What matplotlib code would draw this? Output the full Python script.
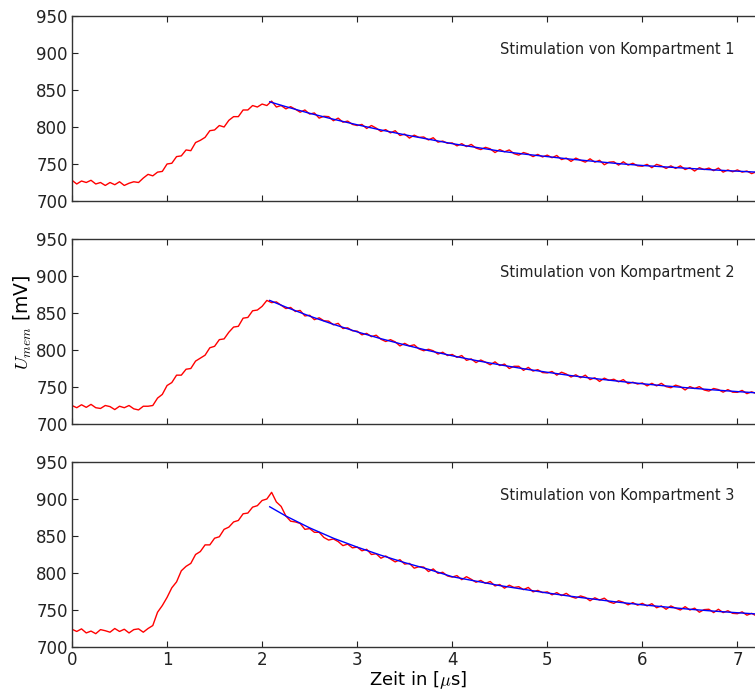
import numpy as np
import matplotlib
matplotlib.use("Agg")
import matplotlib.pyplot as plt

plt.rcParams['mathtext.fontset'] = 'cm'

# Abtastzeiten der Messung (0 ... 7.2 us, Schritt 0.05 us)
t = np.round(np.arange(145) * 0.05, 2)

# Membranspannung [mV], Stimulation Kompartment 1
u_k1 = [
    728, 723, 727, 725, 728, 723, 725, 721, 725, 722, 726, 721, 724, 726, 725, 731, 736, 734, 739, 740,
    750, 751, 760, 761, 769, 768, 779, 782, 786, 795, 796, 802, 800, 809, 814, 814, 823, 823, 829, 827,
    831, 829, 835, 827, 829, 824.5, 827.5, 824, 820, 823, 817.5, 819, 812, 814.5, 814, 808.5, 812, 806.5, 808, 803.5,
    802, 803.5, 798, 802, 798.5, 794, 796.5, 792, 795, 788.5, 790.5, 785, 789, 786, 786.5, 782.5, 785.5, 779.5, 781, 778,
    778.5, 774.5, 777.5, 773.5, 776.5, 771.5, 769.5, 772.5, 770.5, 765.5, 769.5, 766.5, 769, 764, 762, 765.5, 763.5, 760, 763, 759.5,
    762, 758.5, 761.5, 756, 758, 753.5, 758, 755, 752.5, 757, 752.5, 755, 749, 752.5, 753, 748.5, 753, 748.5, 751, 747.5,
    747, 749.5, 745, 749.5, 747.5, 744, 747.5, 744, 747.5, 742.5, 745, 740.5, 745, 742.5, 744.5, 741, 744.5, 739, 742, 739.5,
    742, 739, 740.5, 737, 739.5,
]

# Stimulation Kompartment 2
u_k2 = [
    725, 722, 726, 722.5, 726.5, 722, 721, 725, 723.5, 719.5, 724, 722, 725, 720.5, 719, 724, 724, 725, 735, 740,
    752, 756, 766, 766, 774, 775, 785, 789, 793, 803, 805, 814, 815, 824, 831, 832, 843, 844, 853, 854,
    859, 867, 864, 865, 860.5, 856, 857.5, 852, 853.5, 846, 847, 841, 843.5, 839.5, 839, 834, 836, 829, 830, 826,
    825.5, 820.5, 822.5, 818, 820, 814.5, 811.5, 814, 811, 805.5, 809, 805.5, 807, 801.5, 799, 801, 799, 794.5, 797, 792.5,
    794, 790, 792.5, 786, 788, 783, 786.5, 783.5, 780, 784, 779, 781, 775, 778, 778, 772.5, 776.5, 771.5, 773.5, 769.5,
    769, 771, 766, 770, 767.5, 763.5, 766.5, 762.5, 766, 760, 762.5, 757.5, 762, 759, 760.5, 757, 760, 754.5, 756.5, 754,
    755.5, 751.5, 755, 751.5, 755, 750.5, 749, 752.5, 750.5, 746, 750.5, 748, 750.5, 746, 744.5, 748, 746.5, 743, 746.5, 743,
    742.8, 745.4, 741, 743.5, 741,
]

# Stimulation Kompartment 3
u_k3 = [
    724, 721, 724.5, 719, 721.5, 718, 723.5, 722, 720, 725, 721, 724, 719, 723.5, 724.5, 720, 725, 729, 747, 756,
    767, 780, 788, 803, 809, 813, 825, 829, 838, 838, 847, 849, 859, 862, 869, 871, 880, 881, 889, 891,
    898, 900, 909, 896, 890, 877, 870, 869, 867, 859, 860, 855, 855, 848, 844.5, 846, 842.5, 837, 839, 834,
    835, 830, 832, 825, 826, 820, 823, 819, 815, 818, 812, 813, 806.5, 808.5, 808, 802, 805.5, 799.5, 801, 796,
    794.5, 796.5, 791, 795, 791.5, 787.5, 790, 786, 788.5, 782.5, 784.5, 779.5, 783.5, 780.5, 781.5, 777.5, 780.5, 774.5, 776.5, 773.5,
    774.5, 770.5, 773.5, 769.5, 772.5, 768, 766, 769, 767, 762.5, 766.5, 763.5, 766, 761, 759, 762.5, 760.5, 757, 760, 756.5,
    759, 755.5, 758.5, 753, 755.5, 751, 755.5, 752.5, 750, 754.5, 750, 752.5, 747, 750.5, 751, 746.5, 751, 746.5, 749, 745.5,
    745, 747.5, 743, 745.5, 742,
]

# exponentieller Fit des Abfalls (ab 2.08 us)
t_fit = [2.08, 2.25, 2.5, 2.75, 3.0, 3.25, 3.5, 3.75, 4.0, 4.25, 4.5, 4.75,
         5.0, 5.25, 5.5, 5.75, 6.0, 6.25, 6.5, 6.75, 7.0, 7.25]
fit_k1 = [834, 827.5, 818.5, 810.5, 803, 796, 789.5, 783.5, 777.5, 772.5, 767.5, 763.5,
          760, 756.5, 753.5, 750.5, 748, 746, 744, 742, 740.3, 738.7]
fit_k2 = [867, 858, 845.8, 834.7, 824.5, 815.3, 806.9, 799.2, 792.2, 785.8, 780, 774.7,
          769.9, 765.4, 761.4, 757.8, 754.4, 751.4, 748.6, 746.1, 743.8, 741.7]
fit_k3 = [889.5, 877, 861, 847, 835, 824, 814, 805, 795, 789, 783, 778,
          773, 768.5, 764.5, 760.5, 757, 754, 751, 748.5, 746.3, 744.2]

labels = ['Stimulation von Kompartment 1',
          'Stimulation von Kompartment 2',
          'Stimulation von Kompartment 3']
messungen = [u_k1, u_k2, u_k3]
fits = [fit_k1, fit_k2, fit_k3]

yticks = [700, 750, 800, 850, 900, 950]
xticks = [0, 1, 2, 3, 4, 5, 6, 7]

W, H = 755, 690
fig = plt.figure(figsize=(W / 100, H / 100), dpi=100)
fig.patch.set_facecolor('white')

# Achsen-Unterkanten in Pixeln (von oben): 201, 424, 647 ; Hoehe 185 px
unten = [201, 424, 647]
for i in range(3):
    ax = fig.add_axes([72 / W, 1 - unten[i] / H, 692 / W, 185 / H])
    ax.plot(t, messungen[i], color='red', lw=1.0)
    ax.plot(t_fit, fits[i], color='blue', lw=1.0)
    ax.set_xlim(0, 7.28)
    ax.set_ylim(700, 950)
    ax.set_yticks(yticks)
    ax.set_xticks(xticks)
    ax.tick_params(direction='in', top=True, right=True, length=4, width=0.8,
                   labelsize=12, colors='#222222', pad=3)
    for s in ax.spines.values():
        s.set_color('#333333')
        s.set_linewidth(1.0)
    if i < 2:
        ax.set_xticklabels([])
    ax.text(4.5, 905, labels[i], fontsize=10.5, va='center', ha='left', color='#222222')

fig.text(418 / W, 1 - 680 / H, r'Zeit in [$\mu$s]', fontsize=13, ha='center', va='center')
fig.text(23 / W, 1 - 322 / H, r'$U_{mem}$ [mV]', fontsize=13.5, ha='center', va='center', rotation=90)

plt.savefig('out.png', dpi=100)
plt.close()
